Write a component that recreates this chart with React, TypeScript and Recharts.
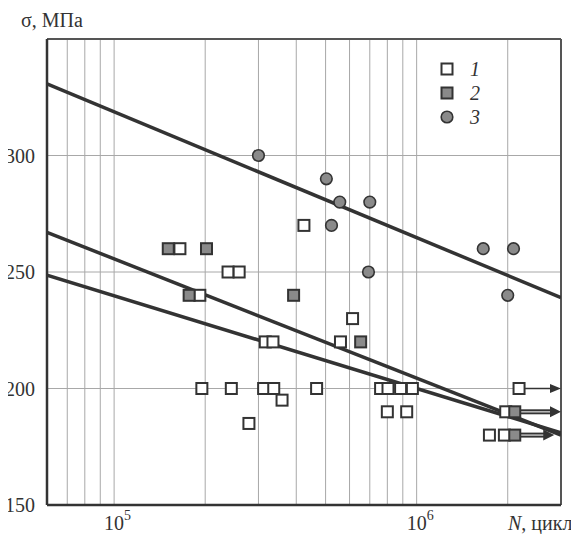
import React from 'react';
import { ComposedChart, Scatter, XAxis, YAxis, CartesianGrid, ReferenceLine } from 'recharts';

// axis setup
const X_DOMAIN = [6e4, 3e6];
const Y_DOMAIN = [150, 350];
const X_TICKS = [7e4, 8e4, 9e4, 1e5, 2e5, 3e5, 4e5, 5e5, 6e5, 7e5, 8e5, 9e5, 1e6, 2e6];
const X_LABELED = [1e5, 1e6];
const Y_TICKS = [150, 200, 250, 300];
const LEGEND_LABELS = ['1', '2', '3'];

// series 1 (open squares)
const s1N = [1.65e5, 2.38e5, 2.59e5, 1.92e5, 3.16e5, 3.35e5, 4.24e5, 6.14e5, 5.6e5, 1.95e5, 2.44e5, 3.12e5, 3.37e5, 3.59e5, 2.79e5, 4.67e5, 7.6e5, 8.04e5, 8.85e5, 9.68e5, 8.0e5, 9.27e5, 2.18e6, 1.97e6, 1.74e6, 1.95e6];
const s1S = [260, 250, 250, 240, 220, 220, 270, 230, 220, 200, 200, 200, 200, 195, 185, 200, 200, 200, 200, 200, 190, 190, 200, 190, 180, 180];
// series 2 (grey squares)
const s2N = [1.51e5, 2.02e5, 1.77e5, 3.92e5, 6.53e5, 2.11e6, 2.11e6];
const s2S = [260, 260, 240, 240, 220, 190, 180];
// series 3 (grey circles)
const s3N = [3.0e5, 5.03e5, 5.57e5, 7.0e5, 5.23e5, 1.66e6, 2.09e6, 6.93e5, 2.0e6];
const s3S = [300, 290, 280, 280, 270, 260, 260, 250, 240];

// fitted lines (endpoints at the domain edges)
const fitN = [6e4, 3e6];
const fit1S = [248.6, 181];
const fit2S = [267, 180];
const fit3S = [330.7, 239];

// run-out arrows
const arrowFromN = [2.18e6, 2.11e6, 2.11e6];
const arrowToN = [3e6, 3e6, 2.85e6];
const arrowS = [200, 190, 180];
const arrowDouble = [false, true, true];

const zip = (ns: number[], ss: number[]) => ns.map((n, i) => ({ n, s: ss[i] }));
const data1 = zip(s1N, s1S);
const data2 = zip(s2N, s2S);
const data3 = zip(s3N, s3S);
const fit1 = zip(fitN, fit1S);
const fit2 = zip(fitN, fit2S);
const fit3 = zip(fitN, fit3S);

const SERIF = '"Liberation Serif", "DejaVu Serif", "Times New Roman", serif';
const DARK = '#333';
const GREY = '#8a8a8a';

const OpenSquare = (p: any) => (
  <rect x={p.cx - 5.5} y={p.cy - 5.5} width={11} height={11} fill="#fff" stroke={DARK} strokeWidth={2} />
);
const GreySquare = (p: any) => (
  <rect x={p.cx - 5.5} y={p.cy - 5.5} width={11} height={11} fill={GREY} stroke={DARK} strokeWidth={2} />
);
const GreyCircle = (p: any) => (
  <circle cx={p.cx} cy={p.cy} r={5.8} fill={GREY} stroke={DARK} strokeWidth={1.6} />
);
const NoDot = () => <g />;

const arrowShape = (double: boolean) => (p: any) => {
  const { x1, y1, x2, y2 } = p;
  const sx = x1 + 6;
  const head = 11;
  const hw = double ? 5.5 : 4.5;
  const bx = x2 - head;
  return (
    <g>
      {double ? (
        <g>
          <line x1={sx} y1={y1} x2={bx + 1} y2={y1} stroke={DARK} strokeWidth={5} />
          <line x1={sx} y1={y1} x2={bx + 1} y2={y1} stroke="#b5b5b5" strokeWidth={1.6} />
        </g>
      ) : (
        <line x1={sx} y1={y1} x2={bx + 1} y2={y1} stroke={DARK} strokeWidth={1.5} />
      )}
      <polygon points={`${x2},${y2} ${bx},${y2 - hw} ${bx},${y2 + hw}`} fill={DARK} />
    </g>
  );
};

const XTick = (p: any) => {
  const { x, y, payload } = p;
  if (!X_LABELED.includes(payload.value)) return <g />;
  const exp = Math.round(Math.log10(payload.value));
  return (
    <g>
      <text x={x} y={y + 25} textAnchor="middle" fontFamily={SERIF} fontSize={20} fill={DARK}>10</text>
      <text x={x + 10} y={y + 15} textAnchor="start" fontFamily={SERIF} fontSize={14} fill={DARK}>{exp}</text>
    </g>
  );
};

const YTick = (p: any) => {
  const { x, y, payload } = p;
  return (
    <text x={x} y={y} dy={7} textAnchor="end" fontFamily={SERIF} fontSize={20} fill={DARK}>{payload.value}</text>
  );
};

const LegendBox = () => (
  <div style={{ position: 'absolute', left: 440, top: 57, fontFamily: SERIF }}>
    {LEGEND_LABELS.map((lbl, i) => (
      <div key={lbl} style={{ display: 'flex', alignItems: 'center', height: 24 }}>
        <svg width={14} height={14}>
          {i === 2 ? (
            <circle cx={7} cy={7} r={5.8} fill={GREY} stroke={DARK} strokeWidth={1.6} />
          ) : (
            <rect x={1.5} y={1.5} width={11} height={11} fill={i === 0 ? '#fff' : GREY} stroke={DARK} strokeWidth={2} />
          )}
        </svg>
        <span style={{ fontStyle: 'italic', fontSize: 20, color: DARK, marginLeft: 16, lineHeight: '20px' }}>{lbl}</span>
      </div>
    ))}
  </div>
);

export default function App() {
  return (
    <div style={{ position: 'relative', width: 579, height: 534, margin: '-8px 0 0 -8px' }}>
      <ComposedChart width={579} height={534} margin={{ top: 39, right: 18, bottom: 0, left: 0 }}>
        <CartesianGrid stroke="#a8a8a8" strokeWidth={1} />
        <XAxis
          dataKey="n"
          type="number"
          scale="log"
          domain={X_DOMAIN}
          allowDataOverflow
          ticks={X_TICKS}
          interval={0}
          height={29}
          tickSize={0}
          tickMargin={0}
          tick={<XTick />}
          axisLine={{ stroke: DARK, strokeWidth: 2.5 }}
          label={(lp: any) => {
            const vb = lp.viewBox || { x: 47, y: 505, width: 514, height: 29 };
            return (
              <text x={vb.x + vb.width - 53} y={vb.y + 25} fontFamily={SERIF} fontSize={20} fill={DARK}>
                <tspan fontStyle="italic">N</tspan>, цикл
              </text>
            );
          }}
        />
        <YAxis
          dataKey="s"
          type="number"
          domain={Y_DOMAIN}
          ticks={Y_TICKS}
          interval={0}
          width={47}
          tickSize={0}
          tickMargin={12}
          tick={<YTick />}
          axisLine={{ stroke: DARK, strokeWidth: 2.5 }}
          label={(lp: any) => {
            const vb = lp.viewBox || { x: 0, y: 39, width: 47, height: 466 };
            return (
              <text x={vb.x + 21} y={vb.y - 12} fontFamily={SERIF} fontSize={20} fill={DARK}>σ, МПа</text>
            );
          }}
        />
        <ReferenceLine y={Y_DOMAIN[1]} stroke="#555" strokeWidth={2} ifOverflow="visible" />
        <ReferenceLine x={X_DOMAIN[1]} stroke="#555" strokeWidth={2} ifOverflow="visible" />
        {arrowS.map((s, i) => (
          <ReferenceLine
            key={'a' + i}
            segment={[{ x: arrowFromN[i], y: s }, { x: arrowToN[i], y: s }]}
            ifOverflow="visible"
            shape={arrowShape(arrowDouble[i])}
          />
        ))}
        <Scatter data={fit3} line={{ stroke: DARK, strokeWidth: 3.5 }} shape={NoDot} isAnimationActive={false} legendType="none" />
        <Scatter data={fit2} line={{ stroke: DARK, strokeWidth: 3.5 }} shape={NoDot} isAnimationActive={false} legendType="none" />
        <Scatter data={fit1} line={{ stroke: DARK, strokeWidth: 3.5 }} shape={NoDot} isAnimationActive={false} legendType="none" />
        <Scatter data={data1} shape={OpenSquare} isAnimationActive={false} />
        <Scatter data={data2} shape={GreySquare} isAnimationActive={false} />
        <Scatter data={data3} shape={GreyCircle} isAnimationActive={false} />
      </ComposedChart>
      <LegendBox />
    </div>
  );
}
